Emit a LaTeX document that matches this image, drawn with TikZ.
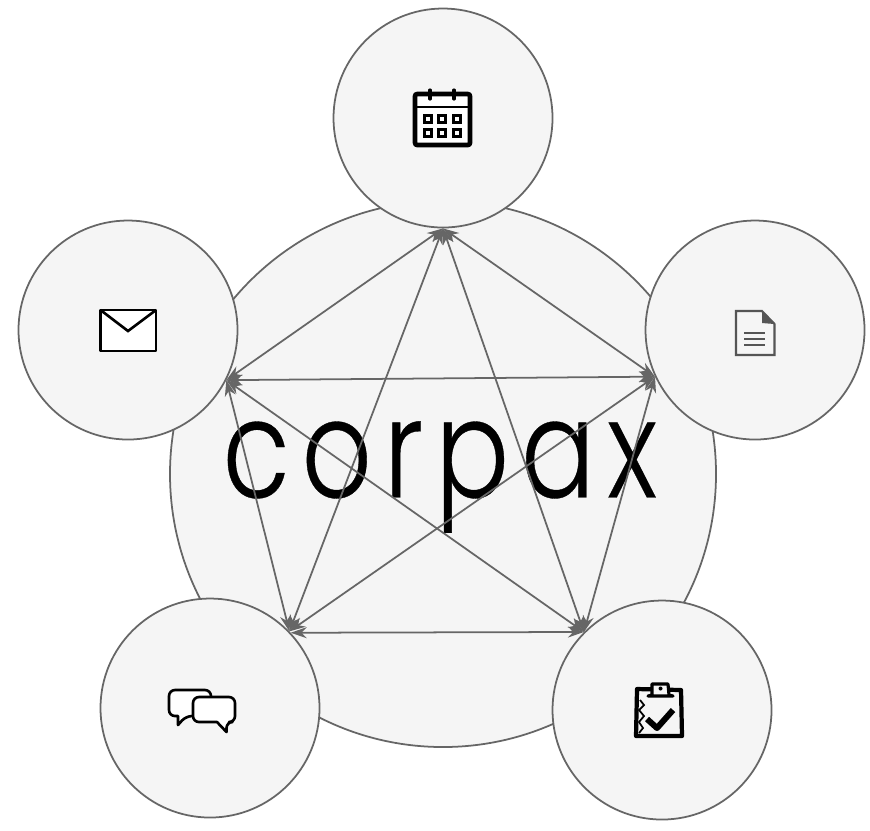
\documentclass[tikz,border=0pt]{standalone}
\usepackage{fontspec}
\usetikzlibrary{arrows.meta}
\newfontfamily\logofont[LetterSpace=8.6,FakeStretch=0.8,FakeBold=0.25]{Poppins Light}
\definecolor{hubfill}{HTML}{F5F5F5}
\definecolor{hubline}{HTML}{666666}
\definecolor{docgray}{HTML}{555555}
\tikzset{
	hub/.style={circle,draw=hubline,fill=hubfill,line width=0.5pt,inner sep=0pt,minimum size=2.19cm},
	link/.style={{Stealth[length=0.16cm,width=0.11cm]}-{Stealth[length=0.16cm,width=0.11cm]},draw=hubline,line width=0.5pt},
	icon/.style={line width=0.75pt,line join=round,fill=white}
}
\begin{document}
\begin{tikzpicture}
	\useasboundingbox (0,0) rectangle (8.7,-8.3);
	\fill[white] (0,0) rectangle (8.7,-8.3);
	\node[hub,minimum size=5.46cm] (base) at (4.43,-4.74) {};
	\node (logo) at (4.40,-4.77) {\fontsize{39}{39}\logofont corpax};
	\node[hub] (cal) at (4.43,-1.18) {};
	\node[hub] (doc) at (7.55,-3.30) {};
	\node[hub] (mail) at (1.28,-3.30) {};
	\node[hub] (chat) at (2.10,-7.08) {};
	\node[hub] (task) at (6.62,-7.10) {};
	% links
	\draw[link] (cal.270) -- (mail.-27);
	\draw[link] (cal.270) -- (doc.205);
	\draw[link] (cal.270) -- (chat.44);
	\draw[link] (cal.270) -- (task.135);
	\draw[link] (mail.-27) -- (doc.205);
	\draw[link] (mail.-27) -- (chat.44);
	\draw[link] (mail.-27) -- (task.135);
	\draw[link] (doc.205) -- (chat.44);
	\draw[link] (doc.205) -- (task.135);
	\draw[link] (chat.43.5) -- (task.135);
	% calendar
	\draw[icon,line width=1.3pt,rounded corners=0.02cm] (4.15,-0.94) rectangle (4.70,-1.45);
	\draw[line width=0.45pt] (4.15,-1.07) -- (4.70,-1.07);
	\draw[line width=0.9pt,line cap=round] (4.30,-0.90) -- (4.30,-0.99);
	\draw[line width=0.9pt,line cap=round] (4.54,-0.90) -- (4.54,-0.99);
	\foreach \px in {4.28,4.42,4.57}
		\foreach \py in {-1.19,-1.33}
			\draw[line width=0.6pt] (\px-0.035,\py-0.035) rectangle (\px+0.035,\py+0.035);
	% document
	\draw[line width=0.6pt,draw=docgray,line join=miter] (7.36,-3.11) -- (7.62,-3.11) -- (7.745,-3.24) -- (7.745,-3.55) -- (7.36,-3.55) -- cycle;
	\fill[docgray] (7.62,-3.11) -- (7.745,-3.24) -- (7.62,-3.23) -- cycle;
	\foreach \py in {-3.33,-3.39,-3.45}
		\draw[line width=0.4pt,draw=docgray] (7.44,\py) -- (7.65,\py);
	% envelope
	\draw[icon] (1.005,-3.10) rectangle (1.56,-3.51);
	\draw[line width=0.75pt] (1.005,-3.10) -- (1.28,-3.31) -- (1.56,-3.10);
	% speech bubbles
	\draw[icon,rounded corners=0.06cm] (1.69,-7.03) -- (1.69,-6.90) -- (2.11,-6.90) -- (2.11,-7.16) -- (1.86,-7.16) [sharp corners] -- (1.78,-7.25) -- (1.78,-7.16) [rounded corners=0.06cm] -- (1.69,-7.16) -- cycle;
	\draw[icon,rounded corners=0.06cm] (1.93,-7.10) -- (1.93,-6.97) -- (2.35,-6.97) -- (2.35,-7.22) -- (2.265,-7.22) [sharp corners] -- (2.265,-7.32) -- (2.17,-7.22) [rounded corners=0.06cm] -- (1.93,-7.22) -- cycle;
	% clipboard
	\draw[line width=1.2pt,line join=round] (6.37,-6.89) -- (6.81,-6.90) -- (6.82,-7.36) -- (6.36,-7.36) -- cycle;
	\draw[icon,fill=hubfill,line width=0.9pt] (6.52,-6.95) -- (6.52,-6.84) -- (6.68,-6.84) -- (6.69,-6.95) -- (6.73,-6.96) -- (6.48,-6.96) -- cycle;
	\fill (6.605,-6.885) circle (0.02);
	\draw[line width=0.5pt] (6.40,-7.00) -- (6.44,-7.05) -- (6.39,-7.10) -- (6.44,-7.16) -- (6.39,-7.22) -- (6.43,-7.28) -- (6.39,-7.33);
	\draw[line width=1.7pt,line join=round] (6.47,-7.19) -- (6.57,-7.28) -- (6.73,-7.10);
\end{tikzpicture}
\end{document}
